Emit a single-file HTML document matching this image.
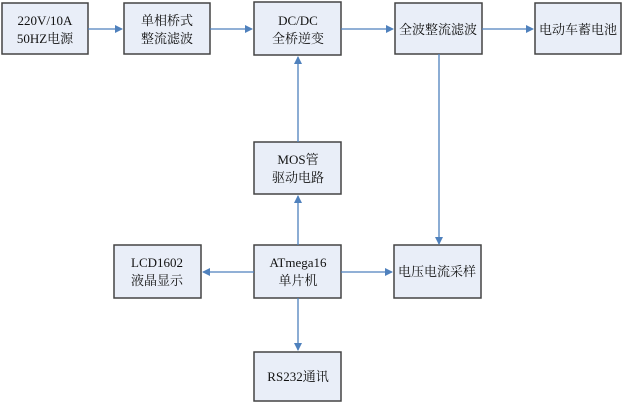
<!DOCTYPE html>
<html><head><meta charset="utf-8"><style>
body{margin:0;width:623px;height:403px;background:#fff;overflow:hidden;}
</style></head><body>
<svg width="623" height="403" xmlns="http://www.w3.org/2000/svg" font-family="'Liberation Serif','Noto Serif CJK SC',serif" font-size="13" fill="#111">
<defs><marker id="a" markerWidth="8" markerHeight="8" refX="7" refY="4" orient="auto" markerUnits="userSpaceOnUse"><path d="M0,0 L8,4 L0,8 z" fill="#4f81bd"/></marker></defs>
<g fill="#e9eef8" stroke="#444" stroke-width="1.5">
<rect x="2" y="3" width="86" height="51"/>
<rect x="124" y="3" width="86" height="51"/>
<rect x="254" y="2" width="87" height="53"/>
<rect x="395" y="3" width="87" height="51"/>
<rect x="535" y="3" width="86" height="51"/>
<rect x="254" y="142" width="87" height="52"/>
<rect x="114" y="245" width="87" height="53"/>
<rect x="254" y="245" width="87" height="53"/>
<rect x="394" y="245" width="87" height="53"/>
<rect x="254" y="352" width="87" height="49"/>
</g>
<g stroke="#4f81bd" stroke-width="1.3" marker-end="url(#a)">
<line x1="88" y1="29" x2="122" y2="29"/>
<line x1="210" y1="29" x2="252" y2="29"/>
<line x1="341" y1="29" x2="393" y2="29"/>
<line x1="482" y1="29" x2="533" y2="29"/>
<line x1="298" y1="142" x2="298" y2="57"/>
<line x1="298" y1="245" x2="298" y2="196"/>
<line x1="439" y1="54" x2="439" y2="244"/>
<line x1="254" y1="272" x2="203" y2="272"/>
<line x1="341" y1="272" x2="392" y2="272"/>
<line x1="298" y1="298" x2="298" y2="350"/>
</g>
<g text-anchor="middle">
<text x="45" y="25">220V/10A</text><text x="45" y="43">50HZ电源</text>
<text x="167" y="25">单相桥式</text><text x="167" y="43">整流滤波</text>
<text x="298" y="25">DC/DC</text><text x="298" y="43">全桥逆变</text>
<text x="438" y="34">全波整流滤波</text>
<text x="578" y="34">电动车蓄电池</text>
<text x="298" y="164">MOS管</text><text x="298" y="182">驱动电路</text>
<text x="157" y="267">LCD1602</text><text x="157" y="285">液晶显示</text>
<text x="298" y="267">ATmega16</text><text x="298" y="285">单片机</text>
<text x="437" y="276">电压电流采样</text>
<text x="298" y="381">RS232通讯</text>
</g>
</svg>
</body></html>
